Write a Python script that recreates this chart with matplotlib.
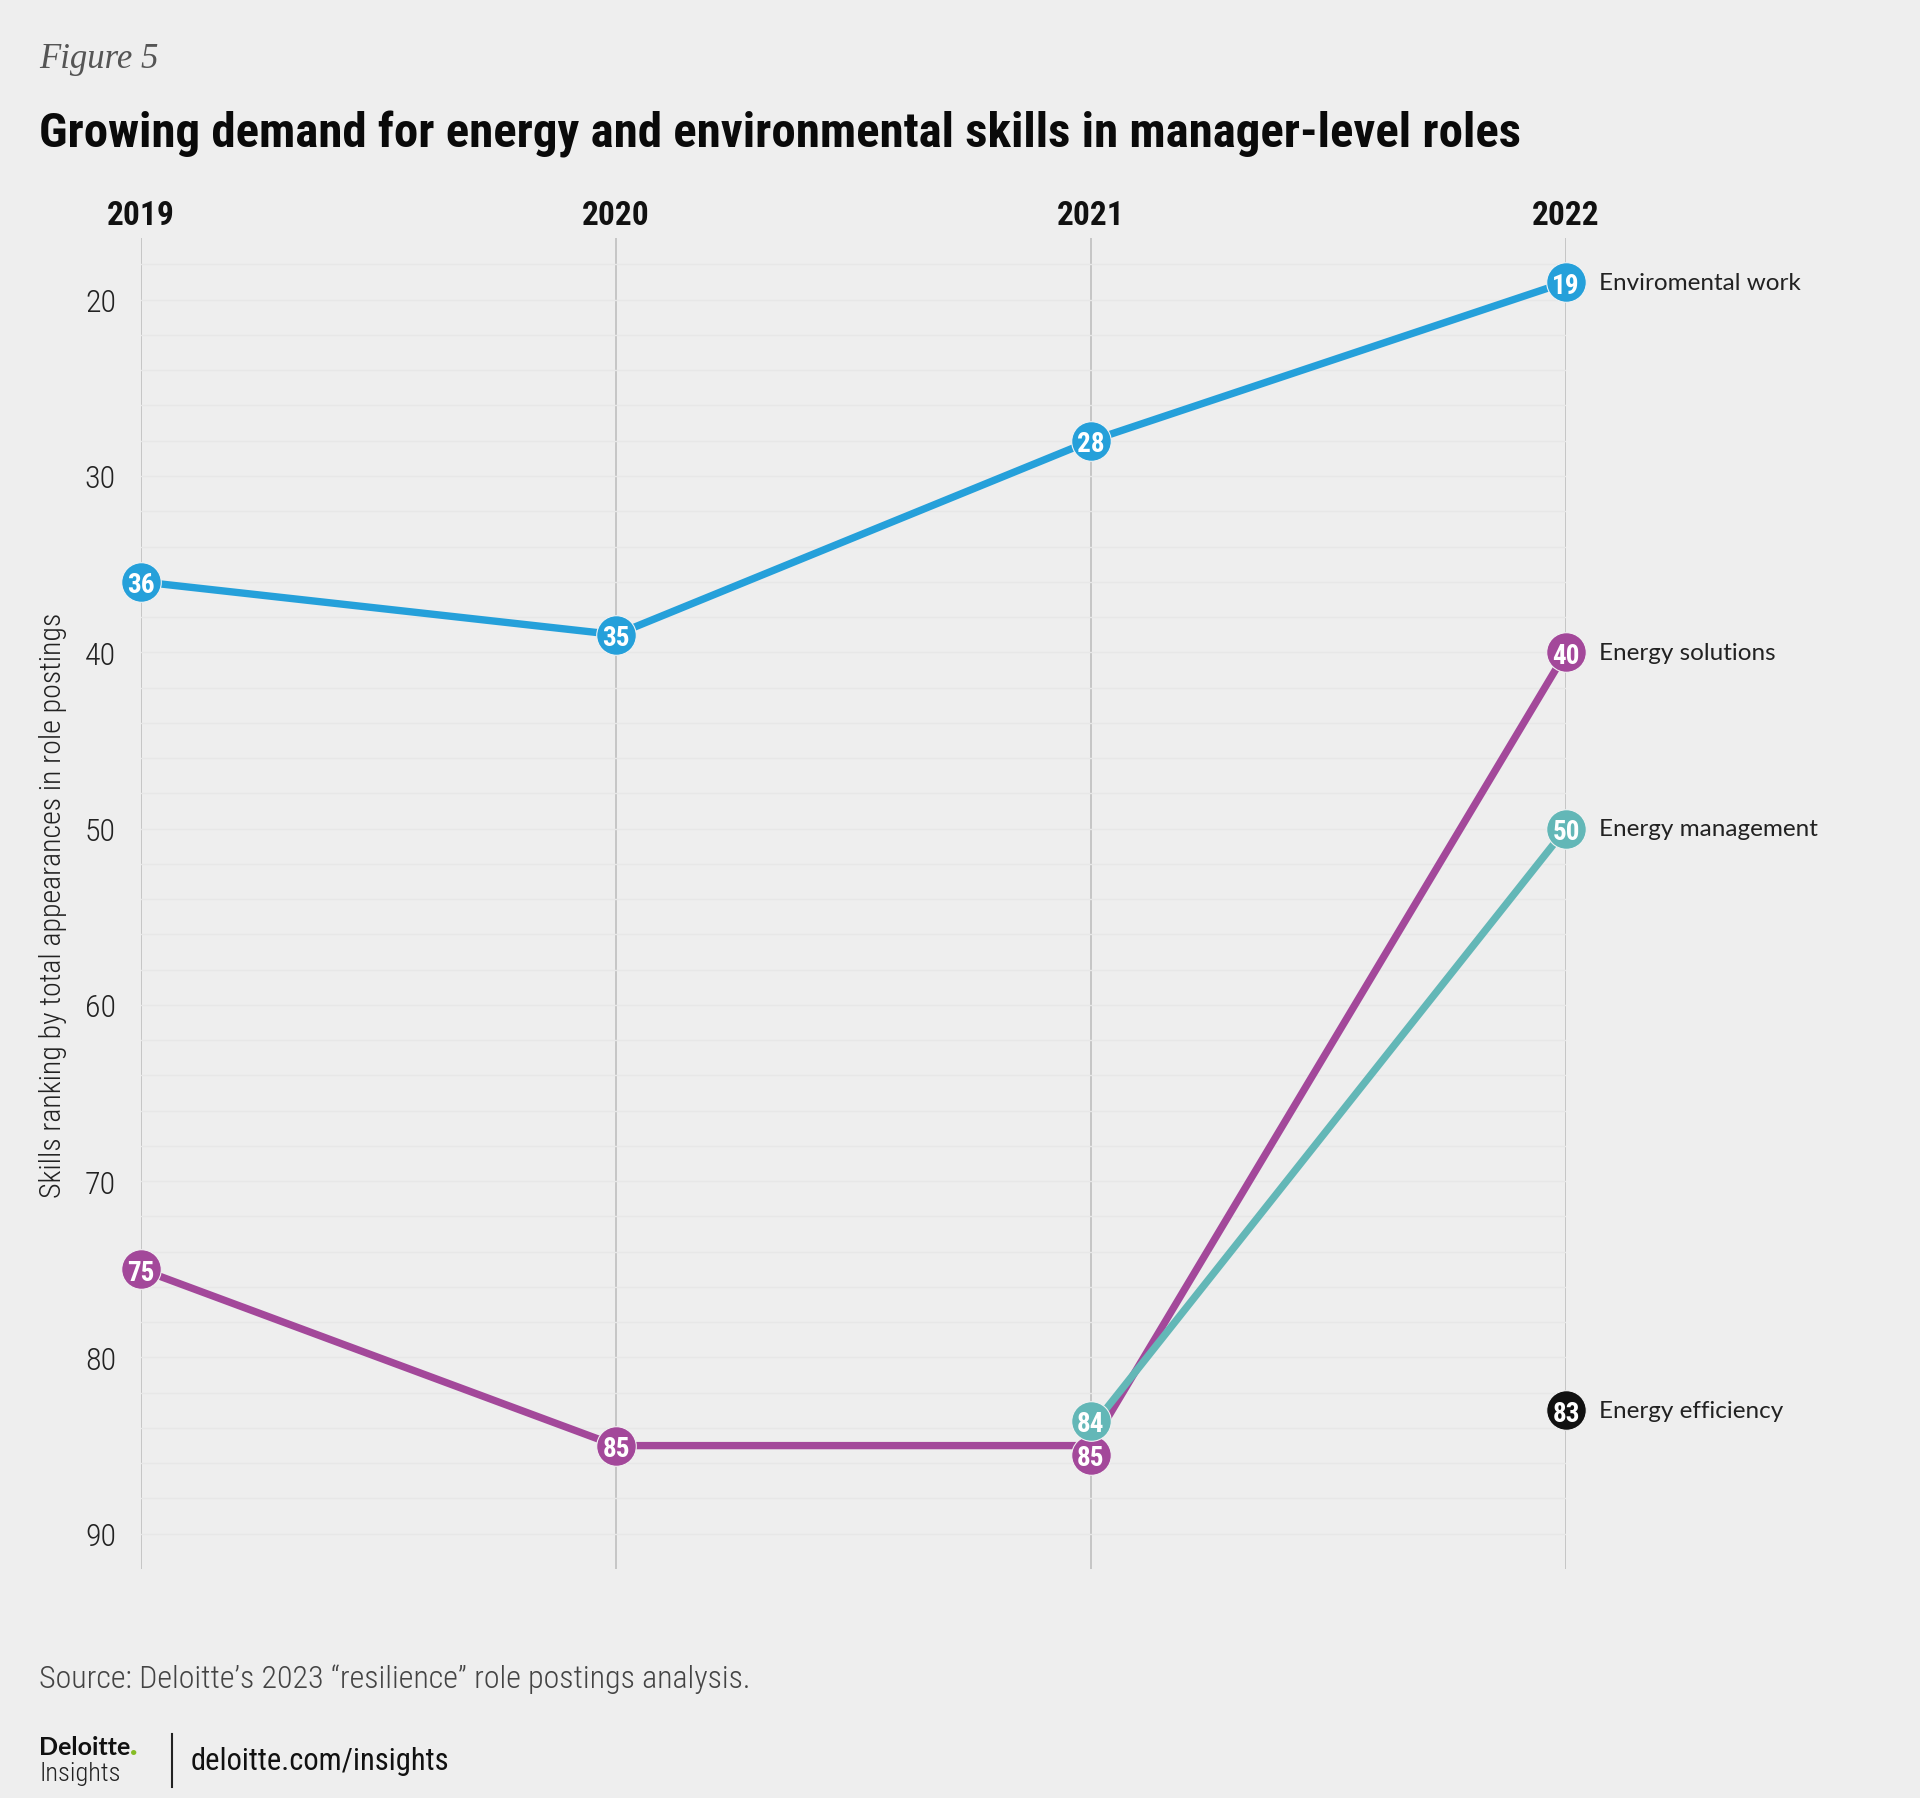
import matplotlib
matplotlib.use('Agg')
import matplotlib.pyplot as plt
import matplotlib.transforms as mtransforms
from matplotlib.lines import Line2D
from matplotlib import font_manager
import numpy as np

# ---- data ----
years = [2019, 2020, 2021, 2022]
series_names = ['Enviromental work', 'Energy solutions', 'Energy management', 'Energy efficiency']

# ranks printed inside the circles
env_work = [36, 35, 28, 19]
energy_solutions = [75, 85, 85, 40]
energy_management = [np.nan, np.nan, 84, 50]
energy_efficiency = [np.nan, np.nan, np.nan, 83]

# the 2020 environmental circle sits near 39 in the source graphic although it reads 35
env_work_drawn = [36, 39, 28, 19]

y_ticks = [20, 30, 40, 50, 60, 70, 80, 90]

# ---- style ----
BG = '#eeeeee'
colors = ['#25a0da', '#a3489a', '#63b7b7', '#111111']
# pixel nudges (down = positive) used in the original to keep 84 / 85 apart
nudges = {('Energy solutions', 2021): 9, ('Energy management', 2021): -7}

available = {f.name for f in font_manager.fontManager.ttflist}


def pick(*names):
    for n in names:
        if n in available:
            return n
    return 'DejaVu Sans'


NARROW = pick('Roboto Condensed', 'Liberation Sans Narrow', 'DejaVu Sans Condensed')
SANS = pick('Lato', 'Inter', 'Open Sans')
SERIF = pick('Liberation Serif', 'DejaVu Serif')

W, H = 1920, 1799
fig = plt.figure(figsize=(W / 100, H / 100), dpi=100)
fig.patch.set_facecolor(BG)

x0, x1, ytop, ybot = 141, 1566, 239, 1570
ax = fig.add_axes([x0 / W, 1 - ybot / H, (x1 - x0) / W, (ybot - ytop) / H])
ax.set_facecolor(BG)
ax.set_xlim(2019, 2022)
ax.set_ylim(92, 16.5)
for s in ax.spines.values():
    s.set_visible(False)

# year labels on top, vertical guides
ax.xaxis.tick_top()
ax.set_xticks(years)
ax.set_xticklabels([str(y) for y in years], fontfamily=NARROW, fontweight='bold',
                   fontsize=24, color='#111111')
ax.tick_params(axis='x', length=0, pad=5)
ax.grid(axis='x', color='#c2c2c2', lw=1.3, zorder=1)

# rank axis
ax.set_yticks(y_ticks)
ax.set_yticks(np.arange(18, 91, 2), minor=True)
ax.set_yticklabels([str(v) for v in y_ticks], fontfamily=NARROW, fontweight='light',
                   fontsize=23, color='#222222')
ax.tick_params(axis='y', which='both', length=0, pad=18)
ax.grid(axis='y', which='both', color='#e7e7e7', lw=1.0, zorder=0)
ax.set_axisbelow(True)

fig.text(53 / W, 1 - 905 / H, 'Skills ranking by total appearances in role postings',
         rotation=90, ha='center', va='center', fontfamily=NARROW, fontweight='light',
         fontsize=21.5, color='#222222')

drawn = [env_work_drawn, energy_solutions, energy_management, energy_efficiency]
labels = [env_work, energy_solutions, energy_management, energy_efficiency]

for i, name in enumerate(series_names):
    ax.plot(years, drawn[i], color=colors[i], lw=5.3, zorder=3, clip_on=False)

for i, name in enumerate(series_names):
    for x, yd, yl in zip(years, drawn[i], labels[i]):
        if np.isnan(yd):
            continue
        dy = nudges.get((name, x), 0)
        trans = ax.transData + mtransforms.ScaledTranslation(0, -dy / 100, fig.dpi_scale_trans)
        ax.plot([x], [yd], 'o', ms=28.5, mfc=colors[i], mec='#f2f2f2', mew=0.8,
                transform=trans, clip_on=False, zorder=5 + i)
        ax.text(x, yd, str(int(yl)), transform=trans, ha='center', va='center_baseline',
                color='white', fontfamily=NARROW, fontweight='bold', fontsize=19.5,
                zorder=5 + i, clip_on=False)
    # end-of-line name
    ax.annotate(name, xy=(years[-1], drawn[i][-1]), xytext=(24, 0), textcoords='offset points',
                ha='left', va='center', fontfamily=SANS, fontsize=17.5, color='#222222')

# ---- titles and footer ----
fig.text(39 / W, 1 - 68 / H, 'Figure 5', fontfamily=SERIF, style='italic', fontsize=25,
         color='#555555', va='baseline')
fig.text(39 / W, 1 - 147 / H,
         'Growing demand for energy and environmental skills in manager-level roles',
         fontfamily=NARROW, fontweight='bold', fontsize=35.2, color='#0a0a0a', va='baseline')

fig.text(39 / W, 1 - 1688 / H, 'Source: Deloitte\u2019s 2023 \u201cresilience\u201d role postings analysis.',
         fontfamily=NARROW, fontweight='light', fontsize=23, color='#444444', va='baseline')

logo = fig.text(39 / W, 1 - 1755 / H, 'Deloitte', fontfamily=SANS, fontweight='bold',
                fontsize=18, color='#111111', va='baseline')
fig.canvas.draw()
bb = logo.get_window_extent()
fig.text(bb.x1 / W, 1 - 1755 / H, '.', fontfamily=SANS, fontweight='heavy', fontsize=22,
         color='#86bc25', va='baseline')
fig.text(39 / W, 1 - 1781 / H, 'Insights', fontfamily=NARROW, fontweight='light', fontsize=19,
         color='#222222', va='baseline')
fig.add_artist(Line2D([172 / W, 172 / W], [1 - 1735 / H, 1 - 1788 / H], color='#222222', lw=1.5))
fig.text(191 / W, 1 - 1770 / H, 'deloitte.com/insights', fontfamily=NARROW, fontsize=22,
         color='#111111', va='baseline')

fig.savefig('out.png', dpi=100, facecolor=BG)
